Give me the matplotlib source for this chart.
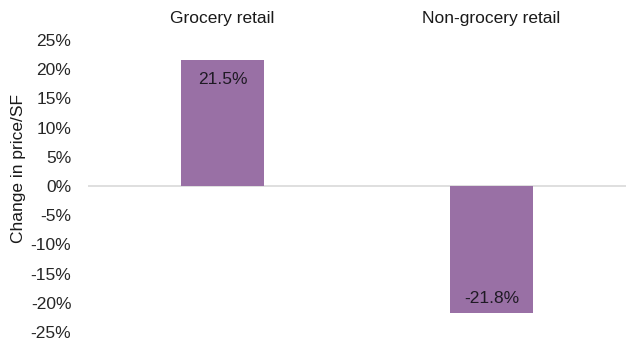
import matplotlib.pyplot as plt
from matplotlib.ticker import PercentFormatter

plt.rcParams['font.family'] = ['Liberation Sans', 'DejaVu Sans']
plt.rcParams['axes.unicode_minus'] = False

categories = ['Grocery retail', 'Non-grocery retail']
changes = [21.5, -21.8]
yticks = [-25, -20, -15, -10, -5, 0, 5, 10, 15, 20, 25]

fig = plt.figure(figsize=(6.26, 3.46), dpi=100)
ax = fig.add_axes([88 / 626, 1 - 332 / 346, 1 - 88 / 626, (332 - 40) / 346])

x = range(len(categories))
bars = ax.bar(x, changes, width=0.31, color='#9970a5', zorder=2)

ax.set_xlim(-0.5, len(categories) - 0.5)
ax.set_ylim(-25, 25)
ax.set_yticks(yticks)
ax.yaxis.set_major_formatter(PercentFormatter(decimals=0))
ax.tick_params(axis='y', length=0, labelsize=12.5, pad=12, labelcolor='#262626')

# category names sit above the plot
ax.xaxis.tick_top()
ax.set_xticks(list(x))
ax.set_xticklabels(categories)
ax.tick_params(axis='x', length=0, labelsize=12.5, pad=10, labelcolor='#1a1a1a')

for s in ax.spines.values():
    s.set_visible(False)
ax.axhline(0, color='#d9d9d9', lw=1.2, zorder=1)

ax.set_ylabel('Change in price/SF', fontsize=12.5, color='#1a1a1a')
ax.yaxis.set_label_coords(-0.115, 0.56)

# value labels inside the bar ends
for b, v in zip(bars, changes):
    off = -14 if v > 0 else 11
    ax.annotate(f'{v:.1f}%', (b.get_x() + b.get_width() / 2, v),
                xytext=(0, off), textcoords='offset points',
                ha='center', va='center', fontsize=12.5, color='#1f1a24', zorder=3)

fig.savefig('out.png', dpi=100)
